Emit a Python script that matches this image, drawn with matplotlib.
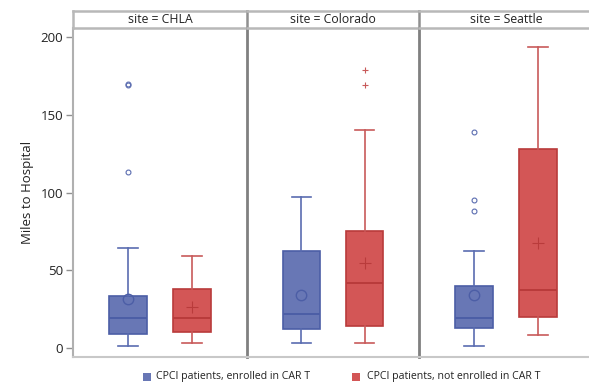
import matplotlib
matplotlib.use("Agg")
import matplotlib.pyplot as plt
from matplotlib.patches import Rectangle

plt.rcParams['font.family'] = ['Open Sans', 'DejaVu Sans']

sites = ["CHLA", "Colorado", "Seattle"]
groups = ["CPCI patients, enrolled in CAR T", "CPCI patients, not enrolled in CAR T"]

# per site: [enrolled, not enrolled]
whislo = [[1, 3], [3, 3], [1, 8]]
q1 = [[9, 10], [12, 14], [13, 20]]
med = [[19, 19], [22, 42], [19, 37]]
q3 = [[33, 38], [62, 75], [40, 128]]
whishi = [[64, 59], [97, 140], [62, 194]]
means = [[31.5, 26], [34, 54.5], [34, 67.5]]
fliers = [[[169, 170, 113], []], [[], [179, 169.5]], [[139, 95, 88], []]]

yticks = [0, 50, 100, 150, 200]

fill_c = ["#6877b5", "#d35656"]
edge_c = ["#4c5ea6", "#b93b3b"]
whisk_c = ["#5a6cb0", "#c85a5a"]

W, H = 589, 385
fig = plt.figure(figsize=(W / 100, H / 100), dpi=100)

def fx(px):
    return px / W

def fy(py):
    return 1 - py / H

left_edges = [73, 247, 419]
right_edges = [247, 419, 593]
plot_top, plot_bot = 28, 357
head_top = 11

for i, site in enumerate(sites):
    x0, x1 = left_edges[i], right_edges[i]
    ax = fig.add_axes([fx(x0), fy(plot_bot), fx(x1 - x0), fy(plot_top) - fy(plot_bot)])
    for g in range(2):
        st = dict(med=med[i][g], q1=q1[i][g], q3=q3[i][g],
                  whislo=whislo[i][g], whishi=whishi[i][g],
                  mean=means[i][g], fliers=fliers[i][g])
        ax.bxp([st], positions=[g + 1], widths=0.59, patch_artist=True,
               showmeans=True, meanline=False,
               boxprops=dict(facecolor=fill_c[g], edgecolor=edge_c[g], linewidth=1.2),
               medianprops=dict(color=edge_c[g], linewidth=1.4),
               whiskerprops=dict(color=whisk_c[g], linewidth=1.2),
               capprops=dict(color=whisk_c[g], linewidth=1.2),
               capwidths=0.3,
               meanprops=(dict(marker='o', markerfacecolor='none', markeredgecolor=edge_c[g],
                               markersize=7.5, markeredgewidth=1.0) if g == 0 else
                          dict(marker='+', markeredgecolor=edge_c[g], markersize=8,
                               markeredgewidth=0.8)),
               flierprops=(dict(marker='o', markerfacecolor='none', markeredgecolor=whisk_c[g],
                                markersize=3.5, markeredgewidth=0.8) if g == 0 else
                           dict(marker='+', markeredgecolor=whisk_c[g], markersize=4.5,
                                markeredgewidth=0.8)))
    ax.set_xlim(0.14, 2.86)
    ax.set_ylim(-6, 206)
    ax.set_xticks([])
    for s in ['top', 'right']:
        ax.spines[s].set_visible(False)
    ax.spines['bottom'].set_color('#c8c8c8')
    ax.spines['bottom'].set_linewidth(1.5)
    if i == 0:
        ax.spines['left'].set_color('#b0b0b0')
        ax.spines['left'].set_linewidth(1.5)
        ax.set_yticks(yticks)
        ax.tick_params(axis='y', length=5, width=1, color='#909090', labelsize=9.5,
                       pad=2, labelcolor='#222222')
        ax.set_ylabel("Miles to Hospital", fontsize=9.5, color='#222222', labelpad=5)
    else:
        ax.spines['left'].set_color('#808080')
        ax.spines['left'].set_linewidth(2)
        ax.set_yticks([])

    # header strip
    hx = fig.add_axes([fx(x0), fy(plot_top), fx(x1 - x0), fy(head_top) - fy(plot_top)])
    hx.set_xticks([])
    hx.set_yticks([])
    for s in hx.spines.values():
        s.set_color('#b8b8b8')
        s.set_linewidth(1.8)
    hx.spines['right'].set_visible(False)
    if i > 0:
        hx.spines['left'].set_color('#909090')
    hx.text(0.5, 0.5, f"site = {site}", ha='center', va='center', fontsize=8.8,
            color='#222222', transform=hx.transAxes)

# legend drawn manually
leg_sq_x = [143, 352]
leg_txt_x = [156, 367]
leg_y = 377
sq = 8
for g in range(2):
    fig.patches.append(Rectangle((fx(leg_sq_x[g]), fy(leg_y + sq / 2)), fx(sq), sq / H,
                                 transform=fig.transFigure, facecolor=fill_c[g],
                                 edgecolor='none'))
    fig.text(fx(leg_txt_x[g]), fy(leg_y), groups[g], ha='left', va='center',
             fontsize=7.6, color='#222222')

fig.savefig("out.png", dpi=100)
